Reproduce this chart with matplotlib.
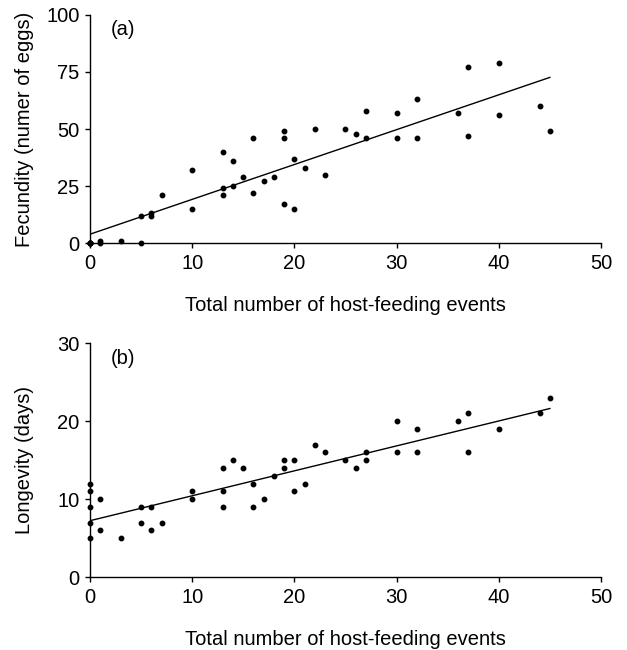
import matplotlib
matplotlib.use("Agg")
import matplotlib.pyplot as plt
import numpy as np

plt.rcParams.update({
    "font.family": ["Liberation Sans", "DejaVu Sans"], "font.size": 14.5,
    "axes.spines.top": False, "axes.spines.right": False,
})

# panel (a): fecundity vs host-feeding events (several birds overlap at 0,0)
fec_x = [0, 0, 0, 0, 0, 1, 1, 3, 5, 5, 6, 6, 7, 10, 10, 13, 13, 13, 14, 14, 15, 16, 16,
         17, 18, 19, 19, 19, 20, 20, 21, 22, 23, 25, 26, 27, 27, 30, 30, 32, 32, 36,
         37, 37, 40, 40, 44, 45]
fec_y = [0, 0, 0, 0, 0, 1, 0, 1, 0, 12, 13, 12, 21, 32, 15, 40, 24, 21, 36, 25, 29, 46,
         22, 27, 29, 49, 46, 17, 37, 15, 33, 50, 30, 50, 48, 58, 46, 57, 46, 63, 46, 57,
         77, 47, 79, 56, 60, 49]

# panel (b): longevity vs host-feeding events
lon_x = [0, 0, 0, 0, 0, 1, 1, 3, 5, 5, 6, 6, 7, 10, 10, 13, 13, 13, 14, 15, 16, 16,
         17, 18, 19, 19, 20, 20, 21, 22, 23, 25, 26, 27, 27, 30, 30, 32, 32, 36, 37,
         37, 40, 44, 45]
lon_y = [12, 11, 9, 7, 5, 10, 6, 5, 9, 7, 9, 6, 7, 11, 10, 14, 11, 9, 15, 14, 12, 9,
         10, 13, 15, 14, 15, 11, 12, 17, 16, 15, 14, 16, 15, 20, 16, 19, 16, 20, 21,
         16, 19, 21, 23]

fig = plt.figure(figsize=(6.27, 6.5), dpi=100)
ax_a = fig.add_axes([0.1435, 0.626, 0.815, 0.351])
ax_b = fig.add_axes([0.1435, 0.112, 0.815, 0.360])


def panel(ax, x, y, ylim, yticks, ylabel, tag):
    x = np.array(x, float)
    y = np.array(y, float)
    ax.plot(x, y, "o", color="black", markersize=3.2, clip_on=False, zorder=3)
    b, a = np.polyfit(x, y, 1)
    xs = np.array([0, x.max()])
    ax.plot(xs, a + b * xs, color="black", lw=1.0)
    ax.set_xlim(0, 50)
    ax.set_ylim(*ylim)
    ax.set_xticks([0, 10, 20, 30, 40, 50])
    ax.set_yticks(yticks)
    ax.set_xlabel("Total number of host-feeding events", labelpad=17)
    ax.set_ylabel(ylabel)
    ax.yaxis.set_label_coords(-0.109, 0.5)
    ax.tick_params(direction="out", length=3.5, width=1, pad=4)
    for sp in ("left", "bottom"):
        ax.spines[sp].set_linewidth(1.0)
    ax.text(0.04, 0.91, tag, transform=ax.transAxes)


panel(ax_a, fec_x, fec_y, (0, 100), [0, 25, 50, 75, 100], "Fecundity (numer of eggs)", "(a)")
panel(ax_b, lon_x, lon_y, (0, 30), [0, 10, 20, 30], "Longevity (days)", "(b)")

fig.savefig("out.png", dpi=100)
